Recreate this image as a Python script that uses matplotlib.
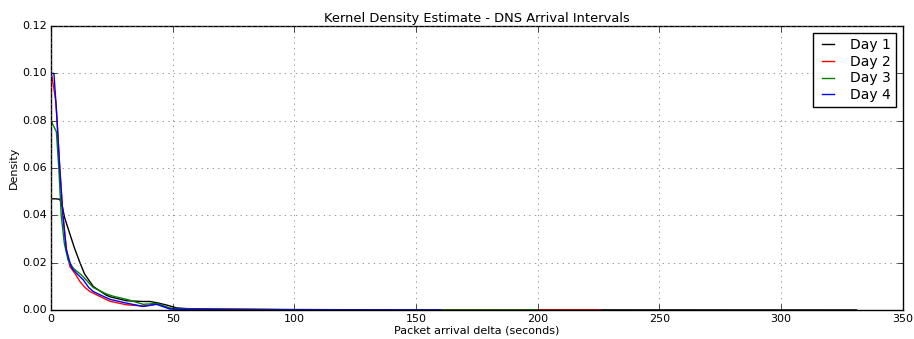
import numpy as np
import matplotlib
matplotlib.use("Agg")
import matplotlib.pyplot as plt

# values (seconds, density)
day1_x = [0, 2, 3.6, 4.5, 5.6, 7.8, 9.7, 11.9, 13.8, 17.4, 22.7, 24.2, 31.1, 37.9, 40.7, 43.4, 47.5, 51.6, 55.7, 60, 70, 85, 100, 130, 180, 250, 331]
day1_y = [0.047, 0.047, 0.0468, 0.0445, 0.039, 0.032, 0.026, 0.020, 0.0152, 0.0099, 0.0063, 0.0056, 0.0039, 0.0036, 0.0036, 0.0031, 0.0021, 0.0009, 0.0006, 0.0005, 0.0004, 0.0003, 0.0002, 0.0001, 0.0001, 0.00005, 0.00003]

day2_x = [0, 0.8, 2, 3.6, 4.9, 6.3, 7.8, 9.8, 11.9, 14, 16, 20, 24.2, 31.1, 37.9, 43.4, 48.9, 55, 60, 70, 85, 100, 130, 180, 226]
day2_y = [0.1008, 0.096, 0.088, 0.06, 0.04, 0.026, 0.0183, 0.0155, 0.012, 0.0095, 0.0078, 0.0058, 0.0037, 0.0022, 0.0017, 0.0025, 0.0007, 0.0004, 0.0003, 0.0003, 0.0002, 0.0001, 0.0001, 0.00005, 0.00003]

day3_x = [0, 2.2, 3.2, 4.2, 5.5, 7, 9.2, 12.5, 17.4, 22.7, 26, 31.1, 37.9, 43.4, 48.9, 55, 60, 70, 85, 100, 130, 200]
day3_y = [0.080, 0.0754, 0.06, 0.04, 0.028, 0.0211, 0.0176, 0.0148, 0.0095, 0.0068, 0.0057, 0.0045, 0.0024, 0.0028, 0.0008, 0.0004, 0.0003, 0.0003, 0.0002, 0.0001, 0.00005, 0.00003]

day4_x = [0, 1.2, 2.4, 3.6, 4.9, 6.3, 8.3, 9.2, 11, 13.3, 15.5, 17.4, 20, 24.2, 31.1, 37.9, 43.4, 48.9, 55, 60, 70, 85, 100, 160]
day4_y = [0.100, 0.100, 0.082, 0.06, 0.04, 0.0254, 0.0183, 0.0169, 0.0150, 0.0127, 0.0095, 0.0078, 0.0065, 0.0045, 0.0029, 0.0015, 0.0024, 0.0004, 0.0003, 0.0003, 0.0002, 0.0001, 0.0001, 0.00003]

labels = ["Day 1", "Day 2", "Day 3", "Day 4"]
colors = ["k", "r", "g", "b"]

plt.style.use("classic")
fig = plt.figure(figsize=(9.14, 3.39), dpi=100)
ax = fig.add_axes([0.0558, 0.0855, 0.932, 0.8375])

for xs, ys, lab, c in zip([day1_x, day2_x, day3_x, day4_x],
                          [day1_y, day2_y, day3_y, day4_y], labels, colors):
    ax.plot(xs, ys, color=c, label=lab, linewidth=1.0)

ax.set_xlim(0, 350)
ax.set_ylim(0, 0.12)
ax.set_yticks(np.arange(0, 0.121, 0.02))
ax.yaxis.set_major_formatter(matplotlib.ticker.FormatStrFormatter("%.2f"))
ax.tick_params(labelsize=8, pad=3)
ax.grid(True, color="0.45", linestyle=":")
ax.set_title("Kernel Density Estimate - DNS Arrival Intervals", fontsize=9.4, pad=3)
ax.set_xlabel("Packet arrival delta (seconds)", fontsize=8, labelpad=1)
ax.set_ylabel("Density", fontsize=8, labelpad=2)
ax.legend(loc="upper right", fontsize=10, labelspacing=0.2, handlelength=1.4,
          borderpad=0.35, handletextpad=0.9, borderaxespad=0.5)

fig.savefig("out.png", dpi=100)
